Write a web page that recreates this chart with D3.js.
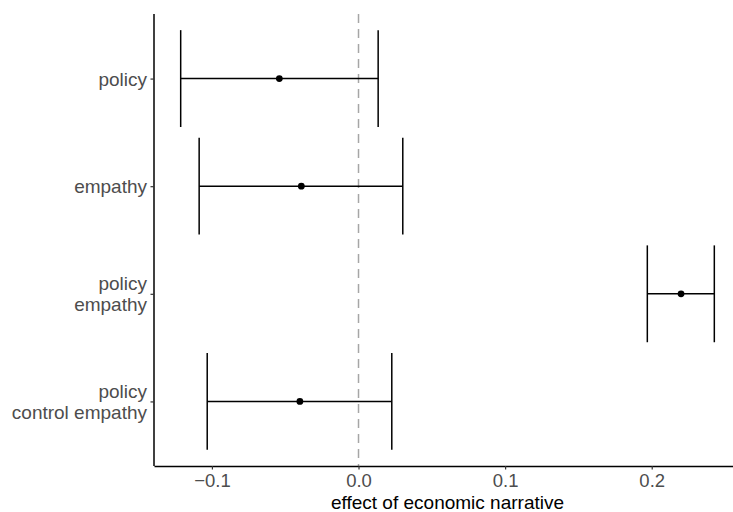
<!DOCTYPE html>
<html>
<head>
<meta charset="utf-8">
<script src="https://cdn.jsdelivr.net/npm/d3@7"></script>
<style>
  body { margin: 0; background: #fff; }
  text { font-family: "Liberation Sans", Arial, sans-serif; }
</style>
</head>
<body>
<div id="chart"></div>
<script>
// categories, top to bottom
var categories = ["policy", "empathy", "policy\nempathy", "policy\ncontrol empathy"];
// estimates and interval bounds
var estimate = [-0.054, -0.039, 0.220, -0.040];
var lower = [-0.1213, -0.1087, 0.197, -0.1032];
var upper = [0.0134, 0.0302, 0.2427, 0.0227];
var xTicks = [-0.1, 0, 0.1, 0.2];

var data = categories.map(function(c, i) {
  return {group: c, est: estimate[i], lo: lower[i], hi: upper[i]};
});

var width = 733, height = 512;
var margin = {top: 14, right: -8, bottom: 46, left: 154};

var svg = d3.select("#chart")
  .append("svg")
    .attr("width", width)
    .attr("height", height);

var x = d3.scaleLinear()
  .domain([-0.1395, 0.2609])
  .range([margin.left, width - margin.right]);

var y = d3.scalePoint()
  .domain(categories)
  .range([margin.top, height - margin.bottom])
  .padding(0.6);

var step = y.step();

// zero reference line
svg.append("line")
  .attr("x1", x(0)).attr("x2", x(0))
  .attr("y1", margin.top).attr("y2", height - margin.bottom)
  .attr("stroke", "#a6a6a6")
  .attr("stroke-width", 1.5)
  .attr("stroke-dasharray", "9,6");

// error bars
var g = svg.append("g");
g.selectAll(".h").data(data).enter().append("line")
  .attr("x1", function(d) { return x(d.lo); })
  .attr("x2", function(d) { return x(d.hi); })
  .attr("y1", function(d) { return y(d.group); })
  .attr("y2", function(d) { return y(d.group); })
  .attr("stroke", "#000").attr("stroke-width", 1.5);

["lo", "hi"].forEach(function(k) {
  g.selectAll(".cap-" + k).data(data).enter().append("line")
    .attr("x1", function(d) { return x(d[k]); })
    .attr("x2", function(d) { return x(d[k]); })
    .attr("y1", function(d) { return y(d.group) - step * 0.45; })
    .attr("y2", function(d) { return y(d.group) + step * 0.45; })
    .attr("stroke", "#000").attr("stroke-width", 1.5);
});

g.selectAll("circle").data(data).enter().append("circle")
  .attr("cx", function(d) { return x(d.est); })
  .attr("cy", function(d) { return y(d.group); })
  .attr("r", 3.4)
  .attr("fill", "#000");

// x axis
var xAxis = svg.append("g")
  .attr("transform", "translate(0," + (height - margin.bottom) + ")")
  .call(d3.axisBottom(x).tickValues(xTicks).tickSizeOuter(0).tickSizeInner(3.5).tickPadding(3)
    .tickFormat(function(d) { return d3.format(".1f")(d).replace("-", "\u2212"); }));
xAxis.select(".domain").attr("stroke", "#000").attr("stroke-width", 1.5);
xAxis.selectAll(".tick line").attr("stroke", "#333").attr("stroke-width", 1.2);
xAxis.selectAll(".tick text")
  .attr("fill", "#4d4d4d")
  .style("font-size", "18.5px")
  .attr("dy", "0.8em");

// y axis
var yAxis = svg.append("g")
  .attr("transform", "translate(" + margin.left + ",0)")
  .call(d3.axisLeft(y).tickSizeOuter(0).tickSizeInner(3.5).tickPadding(3).tickFormat(""));
yAxis.select(".domain").attr("stroke", "#000").attr("stroke-width", 1.5)
  .attr("d", "M0," + margin.top + "V" + (height - margin.bottom));
yAxis.selectAll(".tick line").attr("stroke", "#333").attr("stroke-width", 1.2);

var lineH = 21;
yAxis.selectAll(".tick").each(function(d) {
  var lines = d.split("\n");
  var t = d3.select(this).append("text")
    .attr("fill", "#4d4d4d")
    .attr("text-anchor", "end")
    .style("font-size", "19px")
    .attr("x", -7);
  lines.forEach(function(l, i) {
    t.append("tspan")
      .attr("x", -7)
      .attr("y", (i - (lines.length - 1) / 2) * lineH)
      .attr("dy", "0.35em")
      .text(l);
  });
});

// axis title
svg.append("text")
  .attr("x", (margin.left + width - margin.right) / 2)
  .attr("y", height - 3)
  .attr("text-anchor", "middle")
  .attr("fill", "#000")
  .style("font-size", "19px")
  .text("effect of economic narrative");
</script>
</body>
</html>
